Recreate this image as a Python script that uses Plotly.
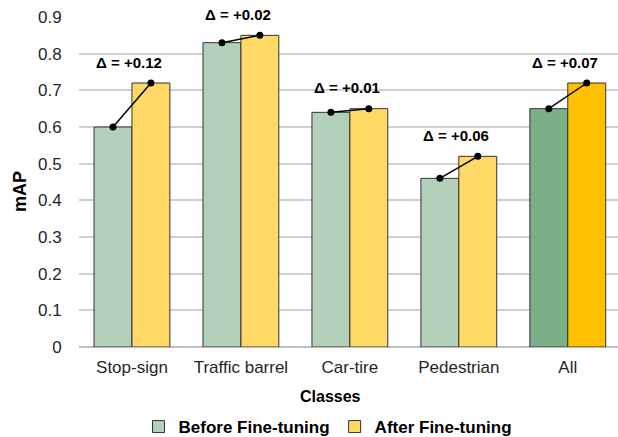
import plotly.graph_objects as go

categories = ["Stop-sign", "Traffic barrel", "Car-tire", "Pedestrian", "All"]
before = [0.60, 0.83, 0.64, 0.46, 0.65]
after = [0.72, 0.85, 0.65, 0.52, 0.72]
y_ticks = [0, 0.1, 0.2, 0.3, 0.4, 0.5, 0.6, 0.7, 0.8, 0.9]

before_colors = ["#B3D0BA"] * 4 + ["#7AAF87"]
after_colors = ["#FFD966"] * 4 + ["#FFC000"]

BW = 0.348
xpos = list(range(len(categories)))
FONT = "Liberation Sans, Arial, sans-serif"

fig = go.Figure()
fig.add_trace(go.Bar(
    x=xpos, y=before, width=BW, offset=-BW, name="Before Fine-tuning",
    marker=dict(color=before_colors, line=dict(color="#333333", width=1)),
))
fig.add_trace(go.Bar(
    x=xpos, y=after, width=BW, offset=0, name="After Fine-tuning",
    marker=dict(color=after_colors, line=dict(color="#333333", width=1)),
))

for i in xpos:
    fig.add_trace(go.Scatter(
        x=[i - BW / 2, i + BW / 2], y=[before[i], after[i]],
        mode="lines+markers", showlegend=False,
        line=dict(color="black", width=1.5),
        marker=dict(color="black", size=7),
    ))
    fig.add_annotation(
        x=i, y=after[i], xref="x", yref="y", yshift=21,
        text=f"<b>Δ = +{after[i] - before[i]:.2f}</b>", showarrow=False,
        font=dict(family=FONT, size=15, color="black"), xshift=-3,
    )

fig.add_annotation(
    x=(330 - 79) / 539, y=(347 - 396) / 330, xref="paper", yref="paper",
    yanchor="middle",
    text="<b>Classes</b>", showarrow=False,
    font=dict(family=FONT, size=16, color="black"),
)
fig.add_annotation(
    x=(20 - 79) / 539, y=(347 - 191) / 330, xref="paper", yref="paper",
    xshift=-12,
    text="<b>mAP</b>", showarrow=False, textangle=-90,
    font=dict(family=FONT, size=18, color="black"),
)

fig.update_layout(
    width=618, height=437,
    margin=dict(l=79, r=0, t=17, b=90, autoexpand=False),
    paper_bgcolor="white", plot_bgcolor="white",
    font=dict(family=FONT, size=17, color="#262626"),
    showlegend=True,
    legend=dict(
        orientation="h", x=(328 - 79) / 539, xanchor="center",
        y=(347 - 427) / 330, yanchor="middle",
        font=dict(family=FONT, size=17, color="black", weight="bold"),
        itemwidth=30, traceorder="normal",
    ),
    xaxis=dict(
        tickmode="array", tickvals=xpos, ticktext=categories,
        range=[-0.486, 4.461], showgrid=False, zeroline=False,
        showline=False, ticks="outside", ticklen=5, tickcolor="rgba(0,0,0,0)",
    ),
    yaxis=dict(
        range=[0, 0.9], tickmode="array", tickvals=y_ticks,
        ticktext=[f"{v:g}" for v in y_ticks],
        showgrid=True, gridcolor="#D0D0D0", gridwidth=1.5,
        zeroline=True, zerolinecolor="#BFBFBF", zerolinewidth=1.5,
        showline=False, ticks="outside", ticklen=13, tickcolor="rgba(0,0,0,0)",
    ),
)

fig.write_html(
    "out.html",
    config={"displayModeBar": False},
    post_script="document.body.style.margin='0';document.body.style.overflow='hidden';",
)
